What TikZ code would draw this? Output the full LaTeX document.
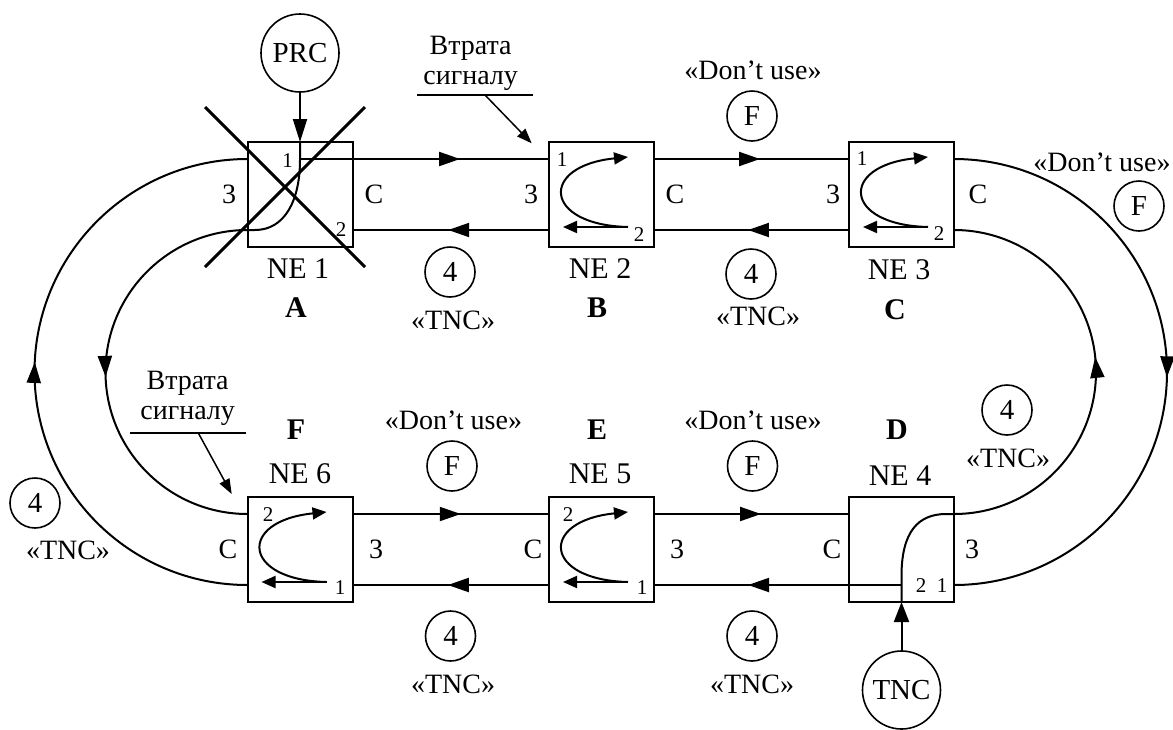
\documentclass[tikz,border=0pt]{standalone}
\usepackage{fontspec}
\setmainfont{Liberation Serif}
\usetikzlibrary{arrows.meta,decorations.markings}
\newcommand{\neloop}[1]{%
  \begin{scope}[shift={(#1.north west)}]
    \draw[wire,-{Triangle[length=14pt,width=12pt]}] (79,85) -- (14,85);
    \draw[wire,-{Triangle[length=14pt,width=12pt]}] (79,85) .. controls (-6,83) and (-10,24) .. (79,15);
  \end{scope}}
\begin{document}
\begin{tikzpicture}[x=1pt,y=-1pt,
  every node/.style={inner sep=0pt,outer sep=0pt},
  lbl/.style={font=\fontsize{28}{31}\selectfont},
  nelbl/.style={font=\fontsize{30}{33}\selectfont},
  boldlbl/.style={font=\fontsize{30}{33}\selectfont\bfseries},
  port/.style={font=\fontsize{21}{24}\selectfont},
  nebox/.style={draw,line width=2pt,minimum width=105pt,minimum height=105pt},
  smallcirc/.style={draw,circle,line width=1.6pt,minimum size=50pt,font=\fontsize{29}{31}\selectfont},
  srccirc/.style={draw,circle,line width=1.6pt,minimum size=78pt,font=\fontsize{29}{31}\selectfont},
  wire/.style={line width=2pt},
  thinwire/.style={line width=1.5pt},
  midarrow/.style={postaction={decorate},decoration={markings,
    mark=at position #1 with {\arrow{Triangle[length=21pt,width=14pt]}}}}
]
\useasboundingbox (0,0) rectangle (1173,729);

% boxes
\node[nebox] (ne1) at (300,194.5) {};
\node[nebox] (ne2) at (601.5,194.5) {};
\node[nebox] (ne3) at (901.5,194.5) {};
\node[nebox] (ne4) at (901.5,549.5) {};
\node[nebox] (ne5) at (601.5,549.5) {};
\node[nebox] (ne6) at (300,549.5) {};

% port coordinates
\coordinate (a-l1) at (247.5,159);
\coordinate (a-l2) at (247.5,230);
\coordinate (a-in) at (300,159);
\coordinate (a-r2) at (352.5,230);
\coordinate (a-top) at (300,142);
\coordinate (b-l1) at (549,159);
\coordinate (b-l2) at (549,230);
\coordinate (b-r1) at (654,159);
\coordinate (b-r2) at (654,230);
\coordinate (c-l1) at (849,159);
\coordinate (c-l2) at (849,230);
\coordinate (c-r1) at (954,159);
\coordinate (c-r2) at (954,230);
\coordinate (d-l1) at (849,514);
\coordinate (d-in) at (901.5,585);
\coordinate (d-r1) at (954,514);
\coordinate (d-r2) at (954,585);
\coordinate (d-bot) at (901.5,602);
\coordinate (e-l1) at (549,514);
\coordinate (e-l2) at (549,585);
\coordinate (e-r1) at (654,514);
\coordinate (e-r2) at (654,585);
\coordinate (f-l1) at (247.5,514);
\coordinate (f-l2) at (247.5,585);
\coordinate (f-r1) at (352.5,514);
\coordinate (f-r2) at (352.5,585);

% straight links
\draw[wire,midarrow=0.643] (a-in) -- (b-l1);
\draw[wire,midarrow=0.544] (b-r1) -- (c-l1);
\draw[wire,midarrow=0.513] (b-l2) -- (a-r2);
\draw[wire,midarrow=0.518] (c-l2) -- (b-r2);
\draw[wire,midarrow=0.551] (f-r1) -- (e-l1);
\draw[wire,midarrow=0.549] (e-r1) -- (d-l1);
\draw[wire,midarrow=0.515] (e-l2) -- (f-r2);
\draw[wire,midarrow=0.620] (d-in) -- (e-r2);

% arcs
\draw[wire,midarrow=0.515] (f-l2) arc[start angle=90,end angle=270,radius=213];
\draw[wire,midarrow=0.511] (a-l2) arc[start angle=270,end angle=90,radius=142];
\draw[wire,midarrow=0.508] (c-r1) arc[start angle=-90,end angle=90,radius=213];
\draw[wire,midarrow=0.534] (d-r1) arc[start angle=90,end angle=-90,radius=142];

% NE1 internal path
\draw[wire] (a-top) -- (300,160) .. controls (300,200) and (285,230) .. (255,230) -- (a-l2);
% NE4 internal path
\draw[wire] (d-bot) -- (901.5,576) .. controls (901.5,532) and (918,514) .. (946,514) -- (d-r1);

% loops
\neloop{ne2}
\neloop{ne3}
\neloop{ne5}
\neloop{ne6}

% sources
\node[srccirc] (prc) at (300,53) {PRC};
\node[srccirc] (tnc) at (901.5,690) {TNC};
\draw[wire,-{Triangle[length=23pt,width=14pt]}] (prc) -- (a-top);
\draw[wire,-{Triangle[length=20pt,width=15pt]}] (tnc) -- (d-bot);

% failure cross
\draw[line width=3pt] (205,107) -- (365,267);
\draw[line width=3pt] (365,107) -- (205,267);

% port numbers
\node[port] (p1a) at (287.5,161) {1};
\node[port] (p1b) at (341,230) {2};
\node[port] (p2a) at (562,160) {1};
\node[port] (p2b) at (639,235) {2};
\node[port] (p3a) at (862,159) {1};
\node[port] (p3b) at (939,234) {2};
\node[port] (p4a) at (921,586) {2};
\node[port] (p4b) at (942,586) {1};
\node[port] (p5a) at (568,515) {2};
\node[port] (p5b) at (642,588) {1};
\node[port] (p6a) at (268,515) {2};
\node[port] (p6b) at (340,588) {1};

% side labels
\node[lbl] (s1l) at (229,194) {3};
\node[lbl] (s1r) at (374,194) {C};
\node[lbl] (s2l) at (531,194) {3};
\node[lbl] (s2r) at (675,194) {C};
\node[lbl] (s3l) at (833,194) {3};
\node[lbl] (s3r) at (978,194) {C};
\node[lbl] (s4l) at (832,549) {C};
\node[lbl] (s4r) at (972,549) {3};
\node[lbl] (s5l) at (533,549) {C};
\node[lbl] (s5r) at (677,549) {3};
\node[lbl] (s6l) at (228,549) {C};
\node[lbl] (s6r) at (376,549) {3};

% NE names
\node[nelbl] (n1) at (298,269) {NE 1};
\node[nelbl] (n2) at (600,269) {NE 2};
\node[nelbl] (n3) at (899,270) {NE 3};
\node[nelbl] (n4) at (900,476) {NE 4};
\node[nelbl] (n5) at (600,474) {NE 5};
\node[nelbl] (n6) at (300,474) {NE 6};
\node[boldlbl] (lA) at (296,308) {A};
\node[boldlbl] (lB) at (597,308) {B};
\node[boldlbl] (lC) at (895,310) {C};
\node[boldlbl] (lD) at (897,430) {D};
\node[boldlbl] (lE) at (597,430) {E};
\node[boldlbl] (lF) at (296,430) {F};

% status markers
\node[smallcirc] (c4a) at (450,272) {4};
\node[lbl] (t4a) at (453,320) {«TNC»};
\node[lbl] (du1) at (753,70) {«Don’t use»};
\node[smallcirc] (cf1) at (752,116) {F};
\node[smallcirc] (c4b) at (751,274) {4};
\node[lbl] (t4b) at (758,316) {«TNC»};
\node[lbl] (du2) at (1102,162) {«Don’t use»};
\node[smallcirc] (cf2) at (1139,206) {F};
\node[smallcirc] (c4c) at (1007,410) {4};
\node[lbl] (t4c) at (1008,458) {«TNC»};
\node[smallcirc] (c4d) at (35,503) {4};
\node[lbl] (t4d) at (68,550) {«TNC»};
\node[lbl] (du3) at (453.5,420) {«Don’t use»};
\node[smallcirc] (cf3) at (452,466) {F};
\node[lbl] (du4) at (753,420) {«Don’t use»};
\node[smallcirc] (cf4) at (752.5,466) {F};
\node[smallcirc] (c4e) at (450.5,636) {4};
\node[lbl] (t4e) at (453,684) {«TNC»};
\node[smallcirc] (c4f) at (752,636) {4};
\node[lbl] (t4f) at (752,684) {«TNC»};

% signal loss annotations
\node[lbl,anchor=base] (la1) at (470.7,54) {Втрата};
\node[lbl,anchor=base] (lb1) at (470.7,84) {сигналу};
\coordinate (u1a) at (417,95);
\coordinate (u1b) at (533,95);
\coordinate (u1m) at (485,95);
\coordinate (u1t) at (531.7,143.3);
\draw[thinwire] (u1a) -- (u1b);
\draw[thinwire,-{Triangle[length=15pt,width=11pt]}] (u1m) -- (u1t);

\node[lbl,anchor=base] (la2) at (187.7,389) {Втрата};
\node[lbl,anchor=base] (lb2) at (187.7,419) {сигналу};
\coordinate (u2a) at (130,433);
\coordinate (u2b) at (246,433);
\coordinate (u2m) at (198.3,433);
\coordinate (u2t) at (231.7,494);
\draw[thinwire] (u2a) -- (u2b);
\draw[thinwire,-{Triangle[length=15pt,width=11pt]}] (u2m) -- (u2t);
\end{tikzpicture}
\end{document}
